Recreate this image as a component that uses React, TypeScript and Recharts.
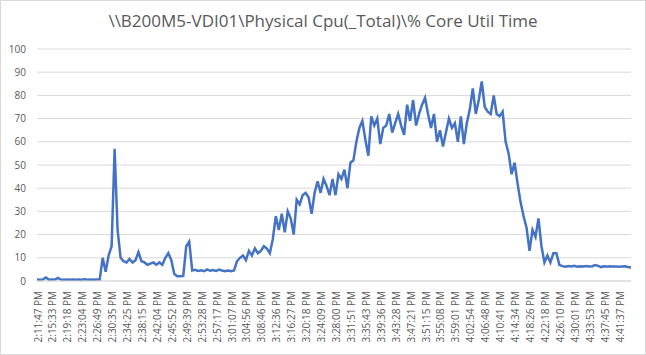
import { CartesianGrid, Line, LineChart, XAxis, YAxis } from "recharts";

const timeLabels = [
  "2:11:47 PM", "2:15:33 PM", "2:19:18 PM", "2:23:04 PM", "2:26:49 PM",
  "2:30:35 PM", "2:34:25 PM", "2:38:15 PM", "2:42:04 PM", "2:45:52 PM",
  "2:49:39 PM", "2:53:28 PM", "2:57:17 PM", "3:01:07 PM", "3:04:56 PM",
  "3:08:46 PM", "3:12:36 PM", "3:16:27 PM", "3:20:18 PM", "3:24:09 PM",
  "3:28:00 PM", "3:31:51 PM", "3:35:43 PM", "3:39:36 PM", "3:43:28 PM",
  "3:47:21 PM", "3:51:15 PM", "3:55:08 PM", "3:59:01 PM", "4:02:54 PM",
  "4:06:48 PM", "4:10:41 PM", "4:14:34 PM", "4:18:26 PM", "4:22:18 PM",
  "4:26:10 PM", "4:30:01 PM", "4:33:53 PM", "4:37:45 PM", "4:41:37 PM",
];

// samples between two labels
const perLabel = 5;

const coreUtil = [
  0.6, 0.5, 0.7, 1.5, 0.5, 0.6, 0.6, 1.3, 0.6, 0.5, 0.6, 0.5, 0.6, 0.5, 0.6, 0.5, 0.7, 0.5, 0.6, 0.5, 0.6, 0.6,
  10, 4, 11, 15, 57, 22, 10, 8.5, 8, 9.5, 8, 9, 12.5, 8.5, 8, 7, 7.5, 8, 7, 8, 7, 10, 12, 9, 3, 2, 2, 2.2, 15, 17, 4.5,
  4.8, 4.3, 4.6, 4.2, 5.0, 4.4, 4.7, 4.3, 4.9, 4.5, 4.2, 4.5, 4.2, 4.5,
  8.5, 10, 11, 9, 13, 11, 14, 12, 13, 15, 14, 12, 18,
  28, 22, 29, 21, 30, 27, 20, 35, 33, 37, 38, 36, 29, 38, 43, 38, 44, 41, 37, 44,
  37, 46, 44, 48, 40, 51, 52, 60, 66, 69, 61, 54, 71, 67, 70, 59, 66, 67, 72, 64,
  68, 72, 67, 63, 76, 69, 78, 67, 72, 76, 79, 72, 66, 72, 60, 65, 58, 64, 70, 66,
  68, 60, 71, 59, 68, 74, 83, 72, 78, 86, 75, 73, 72, 80, 72, 71, 73, 60, 55, 46,
  51, 42, 34, 28, 23, 13, 22, 19, 27, 15, 8, 11, 8, 12, 12, 7,
  6.4, 6.2, 6.5, 6.3, 6.6, 6.2, 6.4, 6.3, 6.5, 6.3, 6.4, 6.9, 6.5, 6.0, 6.3, 6.2, 6.4, 6.2, 6.3, 6.1, 6.2, 6.3, 6.0, 5.8,
];

const yTicks = [0, 10, 20, 30, 40, 50, 60, 70, 80, 90, 100];

const data = coreUtil.map((v, i) => ({ i, v }));
const xTicks = timeLabels.map((_, k) => k * perLabel);

const font = "'Open Sans', sans-serif";

function TimeTick({ x, y, payload }: any) {
  const label = timeLabels[Math.round(payload.value / perLabel)];
  const ty = y + 2;
  return (
    <text
      x={x + 1}
      y={ty}
      transform={`rotate(-90 ${x + 1} ${ty})`}
      textAnchor="end"
      dy="0.35em"
      fill="#595959"
      fontSize={10}
      fontFamily={font}
    >
      {label}
    </text>
  );
}

export default function App() {
  return (
    <div style={{ position: "fixed", left: 0, top: 0, width: 646, height: 355, background: "#fff" }}>
      <div
        style={{
          position: "absolute",
          top: 9,
          left: 0,
          width: 646,
          textAlign: "center",
          fontFamily: font,
          fontSize: 17,
          color: "#595959",
          lineHeight: "24px",
        }}
      >
        \\B200M5-VDI01\Physical Cpu(_Total)\% Core Util Time
      </div>
      <LineChart width={646} height={355} data={data} margin={{ top: 49, right: 15, left: 0, bottom: 0 }}>
        <CartesianGrid vertical={false} stroke="#d9d9d9" />
        <XAxis
          dataKey="i"
          type="number"
          domain={[0, coreUtil.length - 1]}
          ticks={xTicks}
          interval={0}
          tick={<TimeTick />}
          tickLine={false}
          axisLine={{ stroke: "#d9d9d9" }}
          height={74}
        />
        <YAxis
          domain={[0, 100]}
          ticks={yTicks}
          width={37}
          tickLine={false}
          axisLine={false}
          tickMargin={5}
          tick={{ fill: "#595959", fontSize: 10, fontFamily: font }}
        />
        <Line type="linear" dataKey="v" stroke="#4472c4" strokeWidth={2.5} dot={false} isAnimationActive={false} />
      </LineChart>
      <div
        style={{
          position: "absolute",
          inset: 0,
          border: "1px solid #d9d9d9",
          pointerEvents: "none",
        }}
      />
    </div>
  );
}
